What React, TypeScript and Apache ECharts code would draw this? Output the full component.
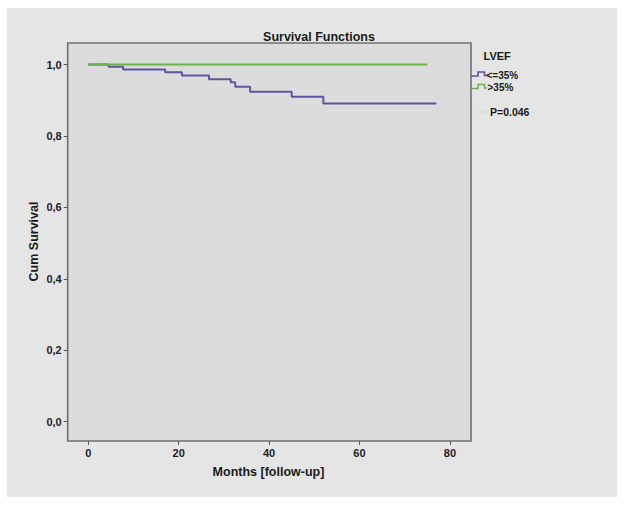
import React, { useEffect, useRef } from "react";
import * as echarts from "echarts";

// Kaplan-Meier step data (months, cumulative survival)
const lowEfTimes = [0, 4.5, 7.7, 17, 20.7, 26.7, 31.5, 32.5, 35.8, 45, 52, 77];
const lowEfSurv = [1.0, 0.994, 0.986, 0.978, 0.969, 0.959, 0.95, 0.938, 0.924, 0.91, 0.891, 0.891];
const highEfTimes = [0, 75];
const highEfSurv = [1.0, 1.0];

const xTicks = [0, 20, 40, 60, 80];
const yTicks = [0, 0.2, 0.4, 0.6, 0.8, 1.0];
const legendLabels = ["<=35%", ">35%"];
const pValueText = "P=0.046";

const BLUE = "#5d559f";
const GREEN = "#6cb44e";
const FONT = "Liberation Sans, Arial, sans-serif";

export default function App() {
  const ref = useRef<HTMLDivElement>(null);
  useEffect(() => {
    if (!ref.current) return;
    const chart = echarts.init(ref.current, null, { renderer: "svg" });
    const zip = (t: number[], s: number[]) => t.map((v, i) => [v, s[i]]);
    chart.setOption({
      animation: false,
      backgroundColor: "#ffffff",
      grid: {
        left: 67.7,
        right: 624 - 471,
        top: 43,
        bottom: 506 - 441,
        containLabel: false,
        show: true,
        backgroundColor: "#dcdcdc",
        borderColor: "#6f6f6f",
        borderWidth: 1.6,
      },
      xAxis: {
        type: "value",
        min: -4.56,
        max: 84.67,
        axisLine: { show: false, onZero: false },
        axisTick: { show: true, length: 4, customValues: xTicks, lineStyle: { color: "#555", width: 1 } },
        splitLine: { show: false },
        axisLabel: {
          customValues: xTicks,
          fontSize: 11,
          fontWeight: "bold",
          color: "#222",
          fontFamily: FONT,
          margin: 6,
        },
      },
      yAxis: {
        type: "value",
        min: -0.054,
        max: 1.0602,
        axisLine: { show: false, onZero: false },
        axisTick: { show: true, length: 4, customValues: yTicks, lineStyle: { color: "#555", width: 1 } },
        splitLine: { show: false },
        axisLabel: {
          customValues: yTicks,
          fontSize: 11,
          fontWeight: "bold",
          color: "#222",
          fontFamily: FONT,
          margin: 6,
          formatter: (v: number) => v.toFixed(1).replace(".", ","),
        },
      },
      graphic: [
        { type: "rect", z: -10, shape: { x: 7, y: 8, width: 610, height: 489 }, style: { fill: "#e5e5e6" } },
        {
          type: "text",
          x: 319,
          y: 37,
          style: { text: "Survival Functions", fill: "#1a1a1a", font: `bold 12.5px ${FONT}`, textAlign: "center", textVerticalAlign: "middle" },
        },
        {
          type: "text",
          x: 268.5,
          y: 471.5,
          style: { text: "Months [follow-up]", fill: "#1a1a1a", font: `bold 12.5px ${FONT}`, textAlign: "center", textVerticalAlign: "middle" },
        },
        {
          type: "text",
          x: 33.5,
          y: 241.5,
          rotation: Math.PI / 2,
          style: { text: "Cum Survival", fill: "#1a1a1a", font: `bold 12.5px ${FONT}`, textAlign: "center", textVerticalAlign: "middle" },
        },
        {
          type: "text",
          x: 483.5,
          y: 56,
          style: { text: "LVEF", fill: "#1a1a1a", font: `bold 11px ${FONT}`, textAlign: "left", textVerticalAlign: "middle" },
        },
        {
          type: "polyline",
          shape: { points: [[471, 76], [478, 76], [478, 72], [484.5, 72], [484.5, 75.5], [487, 75.5]] },
          style: { stroke: BLUE, lineWidth: 1.6, fill: null },
        },
        {
          type: "text",
          x: 486.5,
          y: 75,
          style: { text: legendLabels[0], fill: "#1a1a1a", font: `bold 10px ${FONT}`, textAlign: "left", textVerticalAlign: "middle" },
        },
        {
          type: "polyline",
          shape: { points: [[471, 88.5], [478, 88.5], [478, 84.5], [484.5, 84.5], [484.5, 88], [487, 88]] },
          style: { stroke: GREEN, lineWidth: 1.6, fill: null },
        },
        {
          type: "text",
          x: 487.5,
          y: 87.5,
          style: { text: legendLabels[1], fill: "#1a1a1a", font: `bold 10px ${FONT}`, textAlign: "left", textVerticalAlign: "middle" },
        },
        {
          type: "line",
          shape: { x1: 476, y1: 112, x2: 487, y2: 112 },
          style: { stroke: "#cfe3c6", lineWidth: 1.2 },
        },
        {
          type: "text",
          x: 490,
          y: 112,
          style: { text: pValueText, fill: "#1a1a1a", font: `bold 10.5px ${FONT}`, textAlign: "left", textVerticalAlign: "middle" },
        },
      ],
      series: [
        {
          type: "line",
          name: legendLabels[0],
          step: "end",
          showSymbol: false,
          data: zip(lowEfTimes, lowEfSurv),
          lineStyle: { color: BLUE, width: 2 },
          itemStyle: { color: BLUE },
          z: 3,
        },
        {
          type: "line",
          name: legendLabels[1],
          step: "end",
          showSymbol: false,
          data: zip(highEfTimes, highEfSurv),
          lineStyle: { color: GREEN, width: 2 },
          itemStyle: { color: GREEN },
          z: 4,
        },
      ],
    });
    return () => chart.dispose();
  }, []);
  return (
    <div
      ref={ref}
      style={{ position: "absolute", left: 0, top: 0, width: 624, height: 506 }}
    />
  );
}
